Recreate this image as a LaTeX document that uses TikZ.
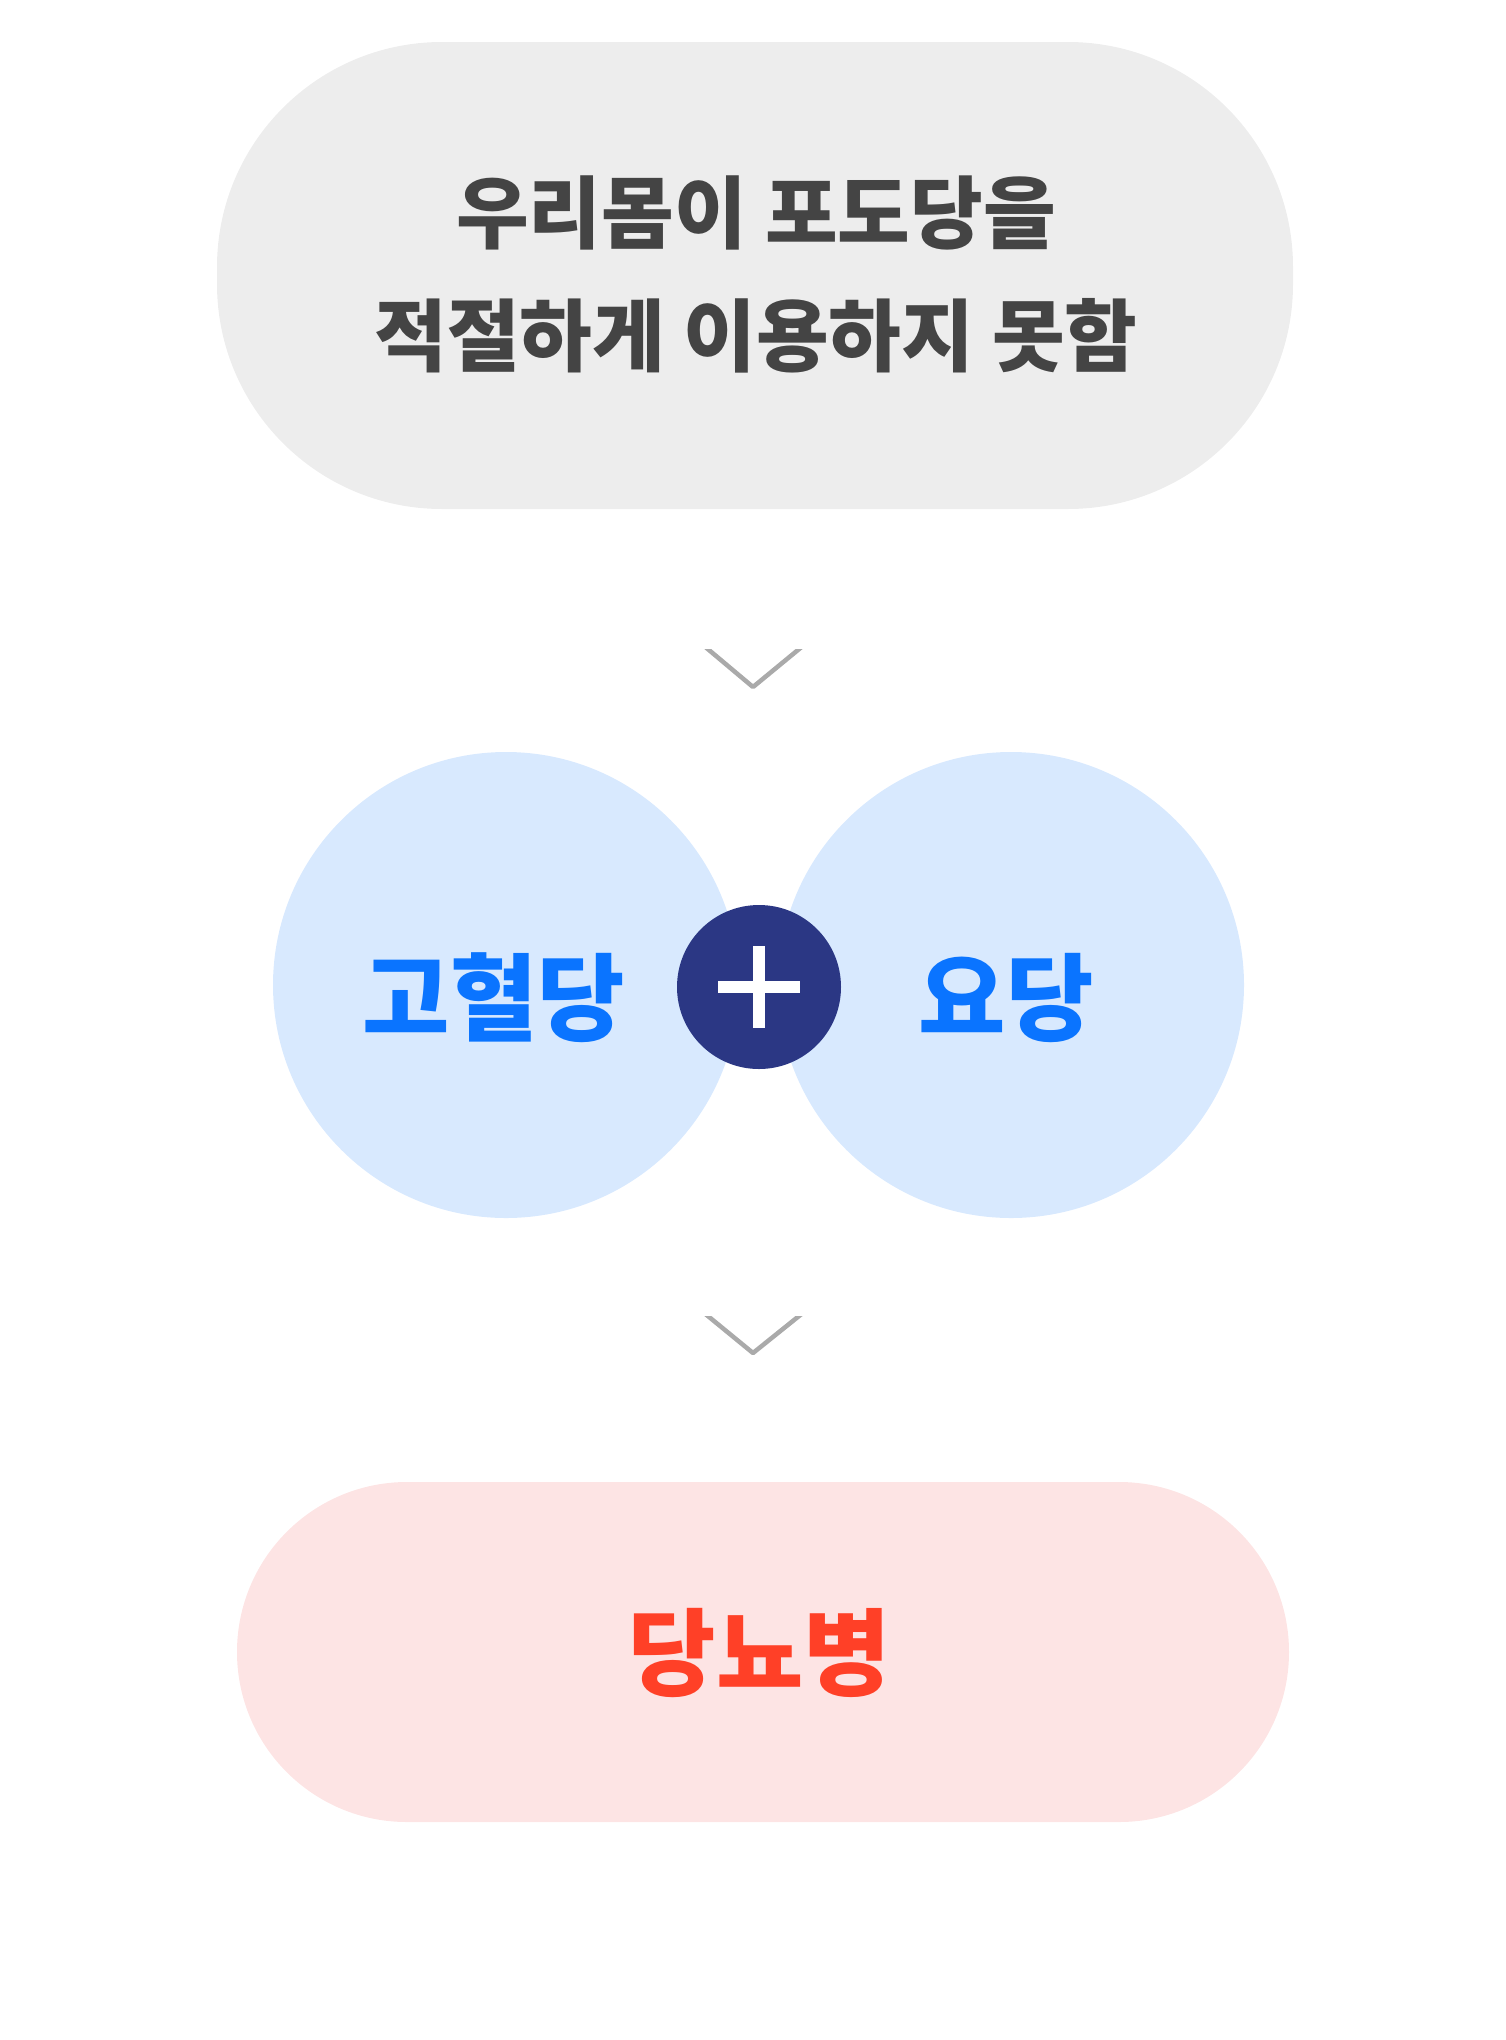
\documentclass[tikz,border=0pt]{standalone}
\usepackage{fontspec}
\setmainfont{Noto Sans CJK KR}
\usetikzlibrary{calc}
\definecolor{pillgray}{HTML}{EDEDED}
\definecolor{txtgray}{HTML}{444444}
\definecolor{lightblue}{HTML}{D8E9FE}
\definecolor{brightblue}{HTML}{0A74FF}
\definecolor{navy}{HTML}{2B3784}
\definecolor{chevgray}{HTML}{AAAAAA}
\definecolor{pillpink}{HTML}{FDE4E4}
\definecolor{redtxt}{HTML}{FF4027}
\tikzset{
  toppill/.style={fill=pillgray, rounded corners=225pt, minimum width=1076pt, minimum height=467pt, inner sep=0pt},
  botpill/.style={fill=pillpink, rounded corners=170pt, minimum width=1052pt, minimum height=340pt, inner sep=0pt},
  bigcircle/.style={circle, fill=lightblue, minimum size=466pt, inner sep=0pt},
  pluscircle/.style={circle, fill=navy, minimum size=164pt, inner sep=0pt},
  bluetext/.style={text=brightblue, font=\fontsize{95}{100}\selectfont\bfseries},
  redlabel/.style={text=redtxt, font=\fontsize{95}{100}\selectfont\bfseries},
  chevron/.style={draw=chevgray, line width=4.5pt, line join=round},
}
\begin{document}
\begin{tikzpicture}[x=1pt,y=-1pt]
\useasboundingbox (0,0) rectangle (1506,2040);
\node[toppill] (top) at (755,275.5) {};
\node[text=txtgray, font=\fontsize{79}{123}\selectfont\bfseries, align=center] (toptext) at (756,274) {우리몸이 포도당을\\적절하게 이용하지 못함};
\coordinate (chev1) at (753,687);
\begin{scope}
\clip ($(chev1)+(-80,-38)$) rectangle ($(chev1)+(80,10)$);
\draw[chevron] ($(chev1)+(-50,-42)$) -- (chev1) -- ($(chev1)+(51,-42)$);
\end{scope}
\node[bigcircle] (left) at (506,985) {};
\node[bigcircle] (right) at (1011,985) {};
\node[bluetext] (hyper) at (494,998) {고혈당};
\node[bluetext] (urine) at (1006,998) {요당};
\node[pluscircle] (plus) at (759,987) {};
\fill[white] ($(plus)+(-41,-6)$) rectangle ($(plus)+(41,6)$);
\fill[white] ($(plus)+(-6,-41)$) rectangle ($(plus)+(6,41)$);
\coordinate (chev2) at (753,1353);
\begin{scope}
\clip ($(chev2)+(-80,-37)$) rectangle ($(chev2)+(80,10)$);
\draw[chevron] ($(chev2)+(-50,-41)$) -- (chev2) -- ($(chev2)+(51,-41)$);
\end{scope}
\node[botpill] (bottom) at (763,1652) {};
\node[redlabel] (diabetes) at (760,1653) {당뇨병};
\end{tikzpicture}
\end{document}
